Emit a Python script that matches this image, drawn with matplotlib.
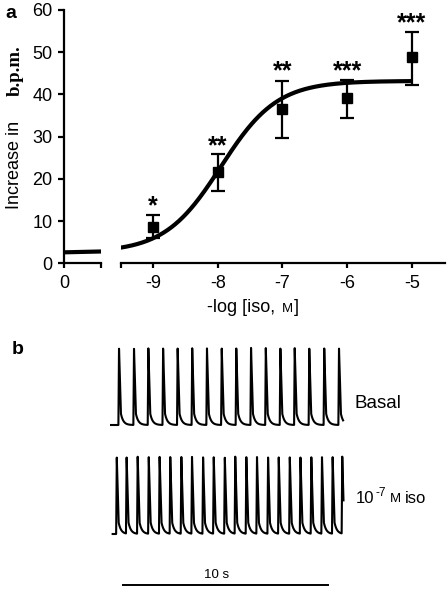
import numpy as np
import matplotlib
matplotlib.use("Agg")
import matplotlib.pyplot as plt
from matplotlib.offsetbox import TextArea, HPacker, AnnotationBbox

plt.rcParams['font.family'] = ['Liberation Sans', 'DejaVu Sans']

# ---- panel a data ----
log_conc = [-9, -8, -7, -6, -5]
bpm_mean = [8.7, 21.6, 36.6, 39.2, 48.8]
bpm_err_up = [2.7, 4.2, 6.7, 4.2, 6.1]
bpm_err_lo = [2.7, 4.4, 7.0, 4.7, 6.5]
sig_labels = ['*', '**', '**', '***', '***']
sig_y = [13.6, 27.7, 45.4, 45.4, 56.8]

# fitted dose-response curve
fit_bottom = 2.6
fit_top = 43.2
fit_logec50 = -7.95
fit_hill = 1.0
fit_range = (-9.5, -5.0)

yticks = [0, 10, 20, 30, 40, 50, 60]
xticks = [-9, -8, -7, -6, -5]

# ---- panel b data: beat times (s) ----
basal_beats = [0.44, 1.17, 1.87, 2.59, 3.30, 4.01, 4.73, 5.45, 6.16, 6.88,
               7.60, 8.31, 9.01, 9.72, 10.45, 11.17]
basal_span = (0.0, 11.37)
iso_beats = [0.33, 0.81, 1.35, 1.89, 2.42, 2.94, 3.48, 4.00, 4.54, 5.06, 5.60,
             6.11, 6.65, 7.17, 7.71, 8.23, 8.77, 9.29, 9.82, 10.34, 10.86, 11.33]
iso_span = (0.13, 11.39)
scale_bar_s = 10

W, H = 447, 589
fig = plt.figure(figsize=(W / 100, H / 100), dpi=100)


def fx(px):
    return px / W


def fy(py):
    return 1 - py / H


lw_ax = 1.6
# left (zero) segment and main segment of panel a
ax0 = fig.add_axes([fx(64.3), fy(263.3), fx(101 - 64.3), (263.3 - 10) / H])
ax1 = fig.add_axes([fx(120.7), fy(263.3), fx(445 - 120.7), (263.3 - 10) / H])

px_per_unit = 64.7
ax0.set_xlim(0, 36.7 / px_per_unit)
ax1.set_xlim(-9.5, -5 + (445 - 411.7) / px_per_unit)
for ax in (ax0, ax1):
    ax.set_ylim(0, 60)
    ax.patch.set_alpha(0)
    for s in ('top', 'right'):
        ax.spines[s].set_visible(False)
    for s in ('left', 'bottom'):
        ax.spines[s].set_linewidth(lw_ax)
    ax.tick_params(width=lw_ax, labelsize=13, length=4.5, pad=4)
    ax.tick_params(axis='x', length=3.5, pad=5)

ax0.set_yticks(yticks)
ax0.set_xticks([0, 36.7 / px_per_unit])
ax0.set_xticklabels(['0', ''])
ax0.plot([0, 36.7 / px_per_unit], [fit_bottom, fit_bottom + 0.2],
         color='black', lw=3, solid_capstyle='butt', clip_on=False)

ax1.spines['left'].set_visible(False)
ax1.tick_params(axis='y', left=False, labelleft=False)
ax1.set_xticks([-9.5] + xticks)
ax1.set_xticklabels([''] + [str(v) for v in xticks])

xs = np.linspace(fit_range[0], fit_range[1], 300)
curve = fit_bottom + (fit_top - fit_bottom) / (1 + 10 ** (fit_hill * (fit_logec50 - xs)))
ax1.plot(xs, curve, color='black', lw=3, solid_capstyle='butt', zorder=3)
ax1.errorbar(log_conc, bpm_mean, yerr=[bpm_err_lo, bpm_err_up], fmt='s',
             color='black', ms=7, elinewidth=1.6, capsize=5, capthick=1.6,
             zorder=4)
for x, y, s in zip(log_conc, sig_y, sig_labels):
    ax1.text(x, y, s, ha='center', va='center', fontsize=18, fontweight='bold')

# x label with small-cap M
xl = HPacker(children=[TextArea('-log [iso, ', textprops=dict(fontsize=13)),
                       TextArea('M', textprops=dict(fontsize=9.5)),
                       TextArea(']', textprops=dict(fontsize=13))],
             align='baseline', pad=0, sep=1)
fig.add_artist(AnnotationBbox(xl, (253, H - 307), xycoords='figure pixels',
                              frameon=False, box_alignment=(0.5, 0.5), pad=0))

# y label
fig.text(fx(19.5), fy(165), 'Increase in', rotation=90, rotation_mode='anchor',
         ha='center', va='baseline', fontsize=13)
fig.text(fx(19.5), fy(71), 'b.p.m.', rotation=90, rotation_mode='anchor',
         ha='center', va='baseline', fontsize=13.5, fontweight='bold',
         family='Liberation Serif')

fig.text(fx(5), fy(13), 'a', fontsize=14, fontweight='bold', va='center')
fig.text(fx(12), fy(349), 'b', fontsize=14, fontweight='bold', va='center')

# ---- panel b ----
amp_px = 77
axb = fig.add_axes([fx(110), 0, fx(240), (H - 335) / H])
axb.set_xlim(0, 240 / 20.5)
axb.set_ylim(0, (H - 335) / amp_px)
axb.axis('off')


def trace(beats, span, n=6000):
    t = np.linspace(span[0], span[1], n)
    v = np.zeros_like(t)
    rise, fall, shoulder = 0.03, 0.09, 0.15
    for t0 in beats:
        up = (t >= t0 - rise) & (t < t0)
        v[up] += (t[up] - (t0 - rise)) / rise
        dn = (t >= t0) & (t < t0 + fall)
        v[dn] += 1 - (1 - shoulder) * (t[dn] - t0) / fall
        tail = t >= t0 + fall
        v[tail] += shoulder * np.exp(-(t[tail] - t0 - fall) / 0.12)
    return t, v


for beats, span, base_px in ((basal_beats, basal_span, 425),
                             (iso_beats, iso_span, 534)):
    t, v = trace(beats, span)
    axb.plot(t, v + (H - base_px) / amp_px, color='black', lw=1.5)

bar_x0 = (123 - 110) / 20.5
axb.plot([bar_x0, bar_x0 + scale_bar_s], [(H - 585) / amp_px] * 2,
         color='black', lw=1.4)
axb.text((217 - 110) / 20.5, (H - 575) / amp_px, f'{scale_bar_s} s',
         ha='center', va='center', fontsize=9.5)

fig.text(fx(354), fy(403), 'Basal', fontsize=13.5, va='center')
# "10^-7 M iso" label: pieces chained so they never overlap
t10 = fig.text(fx(356), fy(503), '10', fontsize=12, va='baseline')
sup = axb.annotate('-7', xy=(1, 0), xycoords=t10, xytext=(0.5, 5),
                   textcoords='offset points', fontsize=8.5,
                   ha='left', va='bottom', annotation_clip=False)
tm = axb.annotate('M', xy=(1, 0), xycoords=(sup, t10), xytext=(3, 0.8),
                  textcoords='offset points', fontsize=9.5,
                  ha='left', va='bottom', annotation_clip=False)
axb.annotate('iso', xy=(1, 0), xycoords=(tm, t10), xytext=(2.5, 0),
             textcoords='offset points', fontsize=12,
             ha='left', va='bottom', annotation_clip=False)

fig.savefig('out.png', dpi=100)
